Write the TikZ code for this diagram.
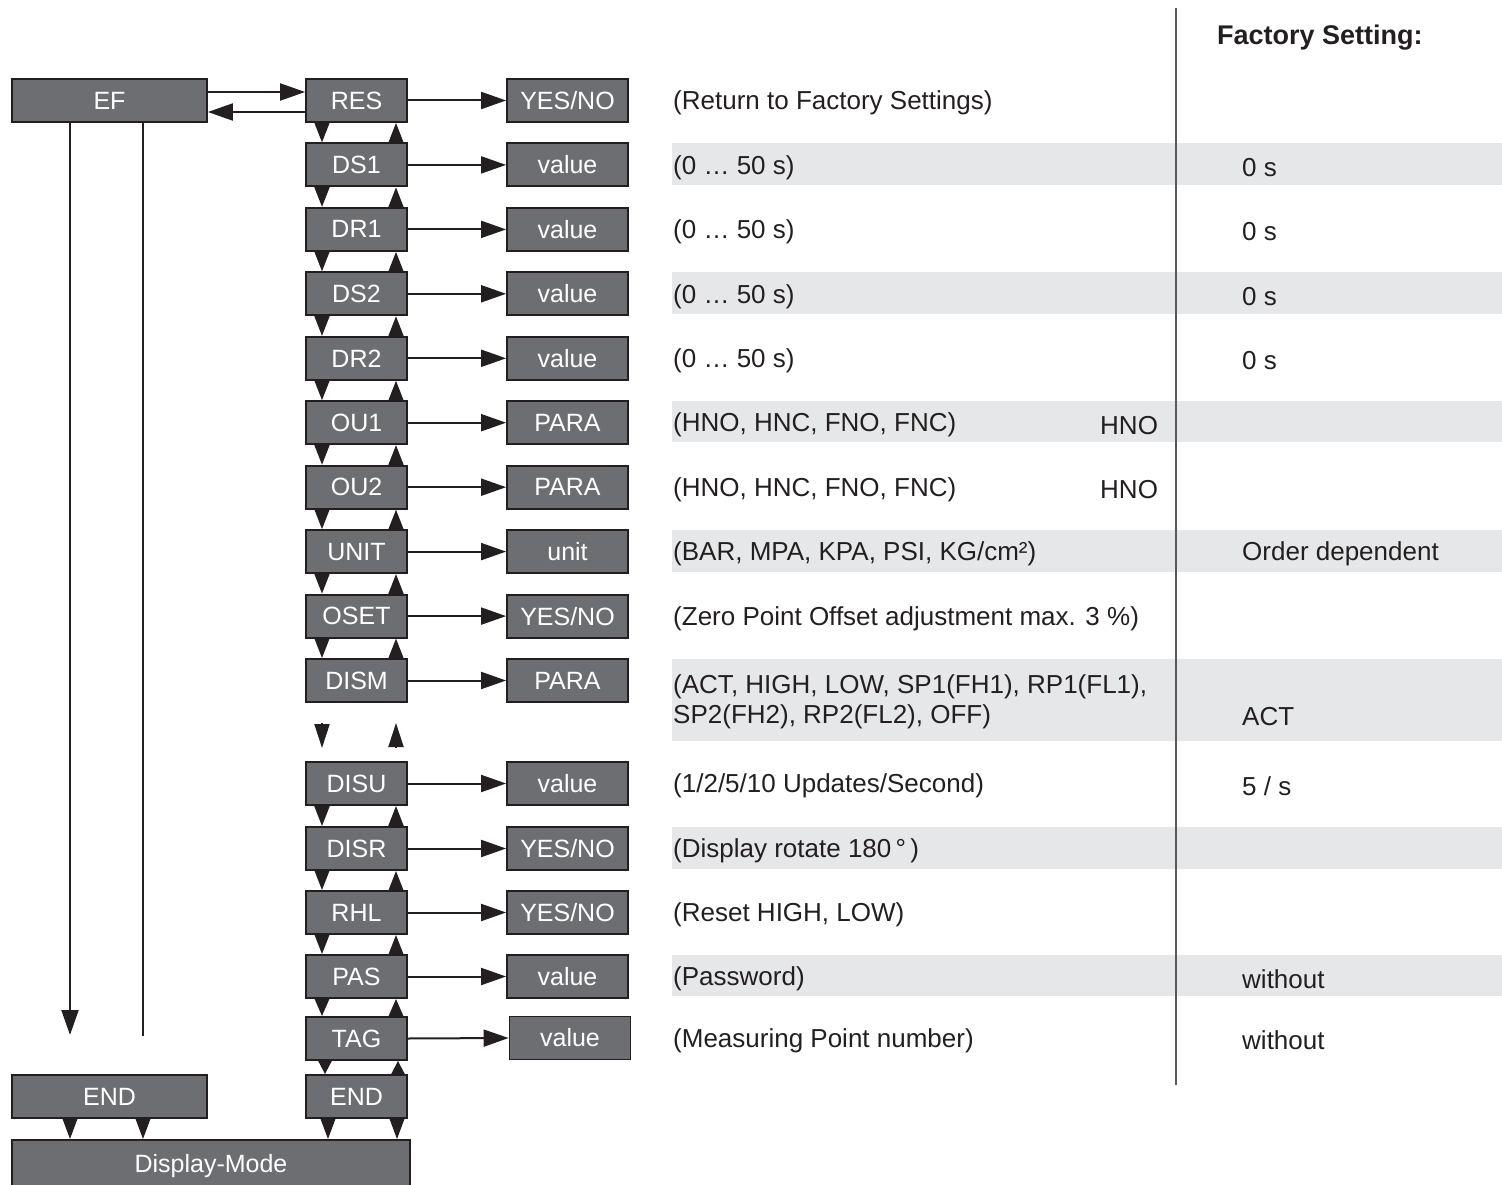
\documentclass[tikz,border=0pt]{standalone}
\usepackage{fontspec}
\setmainfont{Liberation Sans}
\usetikzlibrary{arrows.meta,calc}
\definecolor{boxfill}{HTML}{6D6E71}
\definecolor{boxedge}{HTML}{231F20}
\definecolor{band}{HTML}{E6E7E8}
\definecolor{ink}{HTML}{231F20}
\definecolor{rulecol}{HTML}{58595B}
\begin{document}
\begin{tikzpicture}[x=1pt,y=-1pt,
  menubox/.style={draw=boxedge,fill=boxfill,text=white,line width=1.8pt,inner sep=0pt,minimum height=43pt,font=\fontsize{25}{30}\selectfont},
  colbox/.style={menubox,minimum width=101pt},
  valbox/.style={menubox,minimum width=121pt},
  desc/.style={anchor=west,inner sep=0pt,text=ink,align=left,font=\fontsize{26}{30}\selectfont,yshift=-2.5pt},
  harrow/.style={line width=2pt,draw=ink,-{Triangle[length=25pt,width=17pt]}},
  varrow/.style={line width=2pt,draw=ink,-{Triangle[length=#1,width=15pt]}},
  varrow/.default=20pt,
  plainline/.style={line width=2pt,draw=ink},
]
\useasboundingbox (0,0) rectangle (1502,1185);
\clip (0,0) rectangle (1502,1185);

% grey bands
\fill[band] (672,143.4) rectangle (1502,185.4);
\fill[band] (672,272.3) rectangle (1502,314.3);
\fill[band] (672,401.2) rectangle (1502,442.2);
\fill[band] (672,530.1) rectangle (1502,572.1);
\fill[band] (672,659) rectangle (1502,741);
\fill[band] (672,827) rectangle (1502,869);
\fill[band] (672,955) rectangle (1502,996);

% vertical rule
\draw[line width=1.6pt,rulecol] (1176,8) -- (1176,1085);

% header
\node[desc,font=\fontsize{27}{30}\selectfont\bfseries] (hdr) at (1217,35) {Factory Setting:};

% left boxes
\node[menubox,minimum width=195pt] (EF) at (109.5,100.5) {EF};
\node[menubox,minimum width=195pt] (ENDL) at (109.5,1096.5) {END};
\node[menubox,minimum width=398pt,minimum height=52pt] (DM) at (211,1166) {Display-Mode};

% column boxes
\node[colbox] (RES)  at (356.5,100.5) {RES};
\node[colbox] (DS1)  at (356.5,164.9) {DS1};
\node[colbox] (DR1)  at (356.5,229.4) {DR1};
\node[colbox] (DS2)  at (356.5,293.8) {DS2};
\node[colbox] (DR2)  at (356.5,358.3) {DR2};
\node[colbox] (OU1)  at (356.5,422.7) {OU1};
\node[colbox] (OU2)  at (356.5,487.2) {OU2};
\node[colbox] (UNIT) at (356.5,551.6) {UNIT};
\node[colbox] (OSET) at (356.5,616.1) {OSET};
\node[colbox] (DISM) at (356.5,680.5) {DISM};
\node[colbox] (DISU) at (356.5,783.5) {DISU};
\node[colbox] (DISR) at (356.5,848.5) {DISR};
\node[colbox] (RHL)  at (356.5,912.5) {RHL};
\node[colbox] (PAS)  at (356.5,976.5) {PAS};
\node[colbox] (TAG)  at (356.5,1038.5) {TAG};
\node[colbox] (ENDR) at (356.5,1096.5) {END};

% value boxes
\node[valbox] (vRES)  at (567.5,100.5) {YES/NO};
\node[valbox] (vDS1)  at (567.5,164.9) {value};
\node[valbox] (vDR1)  at (567.5,229.4) {value};
\node[valbox] (vDS2)  at (567.5,293.8) {value};
\node[valbox] (vDR2)  at (567.5,358.3) {value};
\node[valbox] (vOU1)  at (567.5,422.7) {PARA};
\node[valbox] (vOU2)  at (567.5,487.2) {PARA};
\node[valbox] (vUNIT) at (567.5,551.6) {unit};
\node[valbox] (vOSET) at (567.5,616.1) {YES/NO};
\node[valbox] (vDISM) at (567.5,680.5) {PARA};
\node[valbox] (vDISU) at (567.5,783.5) {value};
\node[valbox] (vDISR) at (567.5,848.5) {YES/NO};
\node[valbox] (vRHL)  at (567.5,912.5) {YES/NO};
\node[valbox] (vPAS)  at (567.5,976.5) {value};
\node[valbox] (vTAG)  at (570,1038) {value};

% horizontal arrows
\foreach \n in {RES,DS1,DR1,DS2,DR2,OU1,OU2,UNIT,OSET,DISM,DISU,DISR,RHL,PAS,TAG}
  \draw[harrow] (\n.east) -- (v\n.west);

% EF <-> RES
\coordinate (yA) at (0,92);
\coordinate (yB) at (0,112);
\draw[harrow] (EF.east |- yA) -- (RES.west |- yA);
\draw[harrow] (RES.west |- yB) -- (EF.east |- yB);

% EF verticals
\coordinate (L1) at (70,1035);
\coordinate (L2) at (143,1036);
\draw[harrow] (EF.south -| L1) -- (L1);
\draw[plainline] (EF.south -| L2) -- (L2);

% column up/down arrows
\coordinate (dn) at (322,0);
\coordinate (up) at (396,0);
\foreach \a/\b in {RES/DS1,DS1/DR1,DR1/DS2,DS2/DR2,DR2/OU1,OU1/OU2,OU2/UNIT,UNIT/OSET,OSET/DISM,DISU/DISR,DISR/RHL,RHL/PAS}{
  \draw[varrow] (\a.south -| dn) -- (\b.north -| dn);
  \draw[varrow] (\b.north -| up) -- (\a.south -| up);
}
\draw[varrow=18pt] (PAS.south -| dn) -- (TAG.north -| dn);
\draw[varrow=18pt] (TAG.north -| up) -- (PAS.south -| up);
\coordinate (dnE) at (325,0);
\coordinate (upE) at (398,0);
\draw[varrow=15pt] (TAG.south -| dnE) -- (ENDR.north -| dnE);
\draw[varrow=15pt] (ENDR.north -| upE) -- (TAG.south -| upE);

% floating arrows between DISM and DISU
\coordinate (fa1) at (322,723);
\coordinate (fa2) at (322,748);
\coordinate (fb1) at (396,748);
\coordinate (fb2) at (396,723);
\draw[varrow=24pt] (fa1) -- (fa2);
\draw[varrow=24pt] (fb1) -- (fb2);

% into Display-Mode
\coordinate (e1) at (70,0);
\coordinate (e2) at (143,0);
\coordinate (e3) at (328,0);
\coordinate (e4) at (397,0);
\draw[varrow=21pt] (ENDL.south -| e1) -- (DM.north -| e1);
\draw[varrow=21pt] (ENDL.south -| e2) -- (DM.north -| e2);
\draw[varrow=21pt] (ENDR.south -| e3) -- (DM.north -| e3);
\draw[varrow=21pt] (ENDR.south -| e4) -- (DM.north -| e4);

% descriptions
\node[desc] (dRES)  at (673,100.5) {(Return to Factory Settings)};
\node[desc] (dDS1)  at (673,164.9) {(0 … 50 s)};
\node[desc] (dDR1)  at (673,229.4) {(0 … 50 s)};
\node[desc] (dDS2)  at (673,293.8) {(0 … 50 s)};
\node[desc] (dDR2)  at (673,358.3) {(0 … 50 s)};
\node[desc] (dOU1)  at (673,422.7) {(HNO, HNC, FNO, FNC)};
\node[desc] (dOU2)  at (673,487.2) {(HNO, HNC, FNO, FNC)};
\node[desc] (dUNIT) at (673,551.6) {(BAR, MPA, KPA, PSI, KG/cm²)};
\node[desc] (dOSET) at (673,616.1) {(Zero Point Offset adjustment max. 3 \%)};
\node[desc] (dDISM) at (673,699) {(ACT, HIGH, LOW, SP1(FH1), RP1(FL1),\\SP2(FH2), RP2(FL2), OFF)};
\node[desc] (dDISU) at (673,783.5) {(1/2/5/10 Updates/Second)};
\node[desc] (dDISR) at (673,848.5) {(Display rotate 180\,°\,)};
\node[desc] (dRHL)  at (673,912.5) {(Reset HIGH, LOW)};
\node[desc] (dPAS)  at (673,976.5) {(Password)};
\node[desc] (dTAG)  at (673,1038) {(Measuring Point number)};

% HNO
\node[desc] (hOU1) at (1100,422.7) {HNO};
\node[desc] (hOU2) at (1100,487.2) {HNO};

% factory settings
\node[desc] (fDS1)  at (1242,164.9) {0 s};
\node[desc] (fDR1)  at (1242,229.4) {0 s};
\node[desc] (fDS2)  at (1242,293.8) {0 s};
\node[desc] (fDR2)  at (1242,358.3) {0 s};
\node[desc] (fUNIT) at (1242,551.6) {Order dependent};
\node[desc] (fDISM) at (1242,714) {ACT};
\node[desc] (fDISU) at (1242,783.5) {5 / s};
\node[desc] (fPAS)  at (1242,976.5) {without};
\node[desc] (fTAG)  at (1242,1038) {without};
\end{tikzpicture}
\end{document}
